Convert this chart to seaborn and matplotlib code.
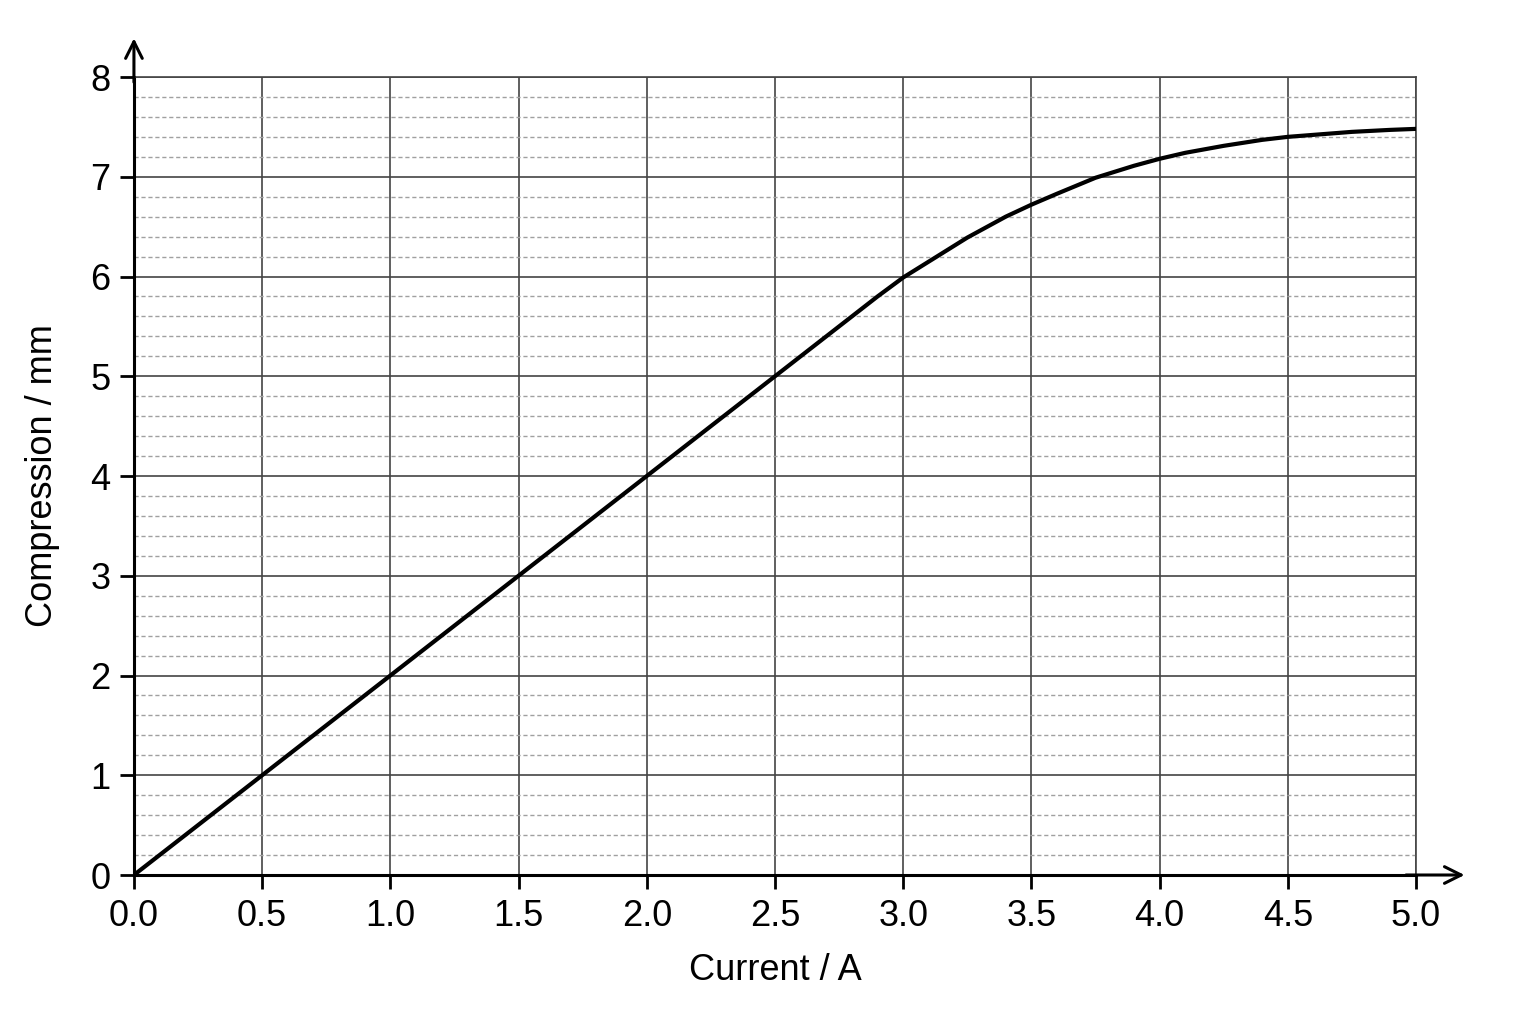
import numpy as np
import pandas as pd
import matplotlib
matplotlib.use("Agg")
import matplotlib.pyplot as plt
import seaborn as sns

# values
current = [0.0, 0.5, 1.0, 1.5, 2.0, 2.5, 2.9, 3.0, 3.1, 3.25, 3.4, 3.5, 3.6, 3.75,
           3.9, 4.0, 4.1, 4.25, 4.4, 4.5, 4.6, 4.75, 4.9, 5.0]
compression = [0.0, 1.0, 2.0, 3.0, 4.0, 5.0, 5.8, 5.99, 6.15, 6.39, 6.60, 6.72, 6.83, 6.99,
               7.11, 7.18, 7.24, 7.31, 7.37, 7.40, 7.42, 7.45, 7.47, 7.48]
x_ticks = [0.0, 0.5, 1.0, 1.5, 2.0, 2.5, 3.0, 3.5, 4.0, 4.5, 5.0]
y_ticks = [0, 1, 2, 3, 4, 5, 6, 7, 8]

df = pd.DataFrame({"Current": current, "Compression": compression})

sns.set_style("white")
plt.rcParams["font.family"] = ["Liberation Sans", "DejaVu Sans"]
plt.rcParams["text.color"] = "black"
plt.rcParams["axes.labelcolor"] = "black"
plt.rcParams["xtick.color"] = "black"
plt.rcParams["ytick.color"] = "black"

fig = plt.figure(figsize=(15.36, 10.24), dpi=100)
ax = fig.add_axes([0.0872, 0.1455, 0.8347, 0.7793])

sns.lineplot(data=df, x="Current", y="Compression", color="black", linewidth=3, ax=ax, zorder=5)

ax.set_xlim(0, 5)
ax.set_ylim(0, 8)
ax.set_xticks(x_ticks)
ax.set_xticklabels([f"{t:.1f}" for t in x_ticks])
ax.set_yticks(y_ticks)
ax.set_yticks(np.arange(0, 8.01, 0.2), minor=True)

ax.grid(which="major", color="#444444", linewidth=1.2, linestyle="-")
ax.grid(which="minor", axis="y", color="#a0a0a0", linewidth=1.0, linestyle=(0, (3, 2)))
ax.set_axisbelow(True)

ax.tick_params(axis="both", which="major", direction="out", length=10, width=2,
               labelsize=26, color="black", labelcolor="black", pad=7)
ax.tick_params(axis="y", which="minor", length=0)
ax.tick_params(bottom=True, left=True)

for s in ["left", "bottom"]:
    ax.spines[s].set_color("black")
    ax.spines[s].set_linewidth(2.2)
for s in ["top", "right"]:
    ax.spines[s].set_color("#444444")
    ax.spines[s].set_linewidth(1.2)

# arrow heads on the axes
ax.annotate("", xy=(0, 1.052), xytext=(0, 0.99), xycoords="axes fraction",
            arrowprops=dict(arrowstyle="->", color="black", lw=2.2, mutation_scale=30),
            annotation_clip=False)
ax.annotate("", xy=(1.04, 0), xytext=(0.99, 0), xycoords="axes fraction",
            arrowprops=dict(arrowstyle="->", color="black", lw=2.2, mutation_scale=30),
            annotation_clip=False)

ax.set_xlabel("Current / A", fontsize=26, labelpad=14)
ax.set_ylabel("Compression / mm", fontsize=26, labelpad=22)

fig.savefig("out.png", dpi=100, facecolor="white")
